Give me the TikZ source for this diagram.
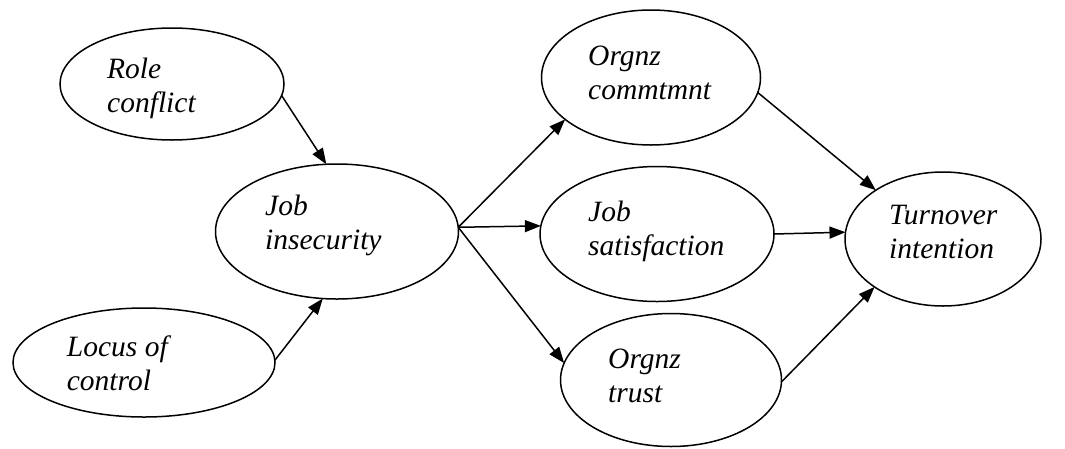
\documentclass[tikz,border=0pt]{standalone}
\usepackage{fontspec}
\setmainfont{Liberation Serif}
\usetikzlibrary{shapes,arrows.meta}

\begin{document}
\begin{tikzpicture}
[x=1pt,y=-1pt,
  lineDecorate/.style={-{Triangle[length=16pt,width=12pt]},line width=1.5pt},%
  nodeDecorate/.style={shape=ellipse,draw,line width=1.5pt,inner sep=0pt,outer sep=0pt},%
  textDecorate/.style={anchor=base west,align=left,inner sep=0pt,
    font=\fontsize{29.5}{34}\selectfont\itshape}]
\useasboundingbox (0,0) rectangle (1065,448);
%% nodes or vertices
\foreach \nodename/\x/\y/\w/\h in {
  Role/172/84/224/112, Insecurity/337/231.5/243/135,
  Locus/144/362.5/262/109, Commitment/651/77.5/219/135,
  Satisfaction/657/234/234/135, Trust/671/380/221/133,
  Turnover/943/239/196/134}
{
  \node (\nodename) at (\x,\y) [nodeDecorate,minimum width=\w pt,minimum height=\h pt] {};
}
%% texts (anchored at the last baseline)
\foreach \nodename/\x/\y/\txt in {
  Role/107/112/Role\\conflict, Insecurity/265/249/Job\\insecurity,
  Locus/66.7/390/Locus of\\control, Commitment/588/99/Orgnz\\commtmnt,
  Satisfaction/588/255/Job\\satisfaction, Trust/608/402/Orgnz\\trust,
  Turnover/889/258/Turnover\\intention}
{
  \node (\nodename Text) at (\x,\y) [textDecorate] {\txt};
}
%% edges or lines
\path
\foreach \startnode/\sa/\endnode/\ea in {
  Role/-6.5/Insecurity/99, Locus/1/Insecurity/258.5,
  Insecurity/2/Commitment/206.3, Insecurity/2/Satisfaction/176.4,
  Insecurity/2/Trust/171.3, Commitment/-8.6/Turnover/144.4,
  Satisfaction/0/Turnover/176.7, Trust/-1.7/Turnover/215.4}
{
  (\startnode.\sa) edge[lineDecorate] (\endnode.\ea)
};
\end{tikzpicture}
\end{document}
